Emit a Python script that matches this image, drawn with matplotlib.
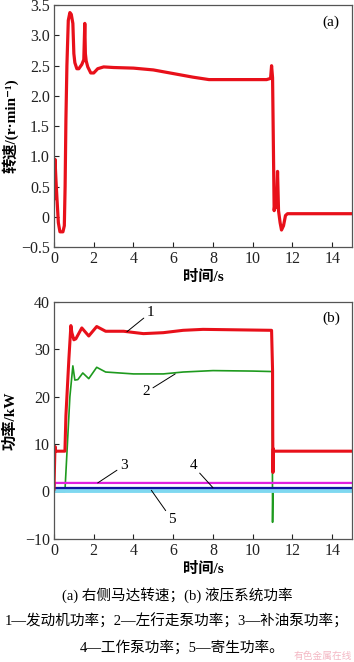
import matplotlib
matplotlib.use('Agg')
import matplotlib.pyplot as plt

FAM = ['Liberation Serif', 'Noto Sans CJK SC', 'DejaVu Sans']
plt.rcParams['font.family'] = FAM
plt.rcParams['axes.unicode_minus'] = True

# (a) right motor speed
t_a = [0.0, 0.05, 0.1, 0.15, 0.22, 0.3, 0.45, 0.52, 0.56, 0.6, 0.65, 0.72, 0.8, 0.87, 0.95,
       1.0, 1.05, 1.15, 1.25, 1.4, 1.5, 1.55, 1.58, 1.62, 1.7, 1.85, 2.0, 2.2, 2.5, 3.0,
       4.0, 5.0, 6.0, 7.0, 7.8, 10.7, 10.9, 10.95, 11.0, 11.08, 11.15, 11.2, 11.25, 11.3,
       11.38, 11.45, 11.55, 11.65, 11.75, 15.0]
speed_a = [0.3, 0.95, 0.6, 0.3, -0.1, -0.25, -0.25, -0.15, 0.5, 1.6, 2.5, 3.25, 3.38, 3.35, 3.2,
           2.7, 2.55, 2.45, 2.45, 2.52, 2.6, 3.2, 2.7, 2.58, 2.48, 2.38, 2.38, 2.45, 2.48, 2.47,
           2.46, 2.43, 2.37, 2.31, 2.27, 2.27, 2.29, 2.5, 2.3, 0.1, 0.3, 0.15, 0.75, 0.1,
           -0.1, -0.22, -0.15, 0.02, 0.05, 0.05]

# (b) hydraulic power
t_1 = [0.0, 0.05, 0.08, 0.15, 0.55, 0.6, 0.75, 0.85, 0.9, 1.0, 1.1, 1.4, 1.75, 2.15, 2.6,
       3.5, 4.5, 5.5, 6.5, 7.5, 10.95, 11.0, 11.01, 11.02, 11.04, 11.06, 15.0]
p_1 = [0.5, 9.5, 8.5, 8.5, 8.5, 16.0, 28.0, 35.0, 33.5, 32.0, 32.2, 34.5, 32.8, 34.8, 33.8,
       33.8, 33.3, 33.5, 34.0, 34.2, 34.0, 25.5, 12.0, 4.0, 9.0, 8.5, 8.5]
t_2 = [0.0, 0.55, 0.65, 0.8, 0.95, 1.05, 1.2, 1.45, 1.75, 2.15, 2.6, 4.0, 5.5, 6.5, 8.0,
       10.0, 10.98, 11.0, 11.02, 11.05, 15.0]
p_2 = [0.0, 0.0, 8.0, 20.0, 26.5, 23.5, 23.6, 25.0, 23.8, 26.2, 25.2, 24.8, 24.8, 25.2, 25.5,
       25.4, 25.3, -6.5, 0.0, 0.2, 0.2]
t_3 = [0.0, 0.05, 15.0]
p_3 = [0.5, 1.8, 1.8]
t_4 = [0.0, 15.0]
p_4 = [0.8, 0.8]
t_5 = [0.0, 15.0]
p_5 = [0.25, 0.25]

fig = plt.figure(figsize=(3.54, 6.62), dpi=100)

def style(ax):
    for s in ax.spines.values():
        s.set_color('#555555')
        s.set_linewidth(0.9)
    ax.tick_params(direction='in', length=3.6, width=0.8, labelsize=11.5, pad=3, colors='#222222')
    ax.set_xlim(0, 15)
    ax.set_xticks(range(0, 16, 2))

ax1 = fig.add_axes([0.1525, 0.627, 0.842, 0.365])
ax1.plot(t_a, speed_a, color='#e8101a', lw=2.3, solid_joinstyle='round')
ax1.set_ylim(-0.5, 3.5)
ax1.set_yticks([-0.5, 0, 0.5, 1.0, 1.5, 2.0, 2.5, 3.0, 3.5])
ax1.set_yticklabels(['\u22120.5', '0', '0.5', '1.0', '1.5', '2.0', '2.5', '3.0', '3.5'])
style(ax1)
ax1.set_xlabel('时间/s', fontsize=11, fontweight='bold', labelpad=2)
ax1.set_ylabel('转速/(r·min⁻¹)', fontsize=11, fontweight='bold', labelpad=2)
ax1.text(0.93, 0.93, '(a)', transform=ax1.transAxes, ha='center', va='center', fontsize=11)

ax2 = fig.add_axes([0.1525, 0.186, 0.842, 0.358])
ax2.plot(t_2, p_2, color='#1e9a1e', lw=1.2)
ax2.plot(t_5, p_5, color='#7fd8f0', lw=3.5)
ax2.plot(t_3, p_3, color='#e020e0', lw=1.6)
ax2.plot(t_4, p_4, color='#1018a0', lw=1.6)
ax2.plot(t_1, p_1, color='#e8101a', lw=2.2, solid_joinstyle='round')
ax2.set_ylim(-10, 40)
ax2.set_yticks([-10, 0, 10, 20, 30, 40])
ax2.set_yticklabels(['\u221210', '0', '10', '20', '30', '40'])
style(ax2)
ax2.set_xlabel('时间/s', fontsize=11, fontweight='bold', labelpad=2)
ax2.set_ylabel('功率/kW', fontsize=11, fontweight='bold', labelpad=5)
ax2.text(0.93, 0.93, '(b)', transform=ax2.transAxes, ha='center', va='center', fontsize=11)

arrow = dict(arrowstyle='-', color='black', lw=0.7, shrinkA=0, shrinkB=0)
ax2.annotate('1', xy=(3.67, 33.7), xytext=(4.85, 37.7), fontsize=11, ha='center', va='center', arrowprops=arrow)
ax2.annotate('2', xy=(6.1, 24.8), xytext=(4.65, 21.0), fontsize=11, ha='center', va='center', arrowprops=arrow)
ax2.annotate('3', xy=(2.2, 1.8), xytext=(3.5, 5.4), fontsize=11, ha='center', va='center', arrowprops=arrow)
ax2.annotate('4', xy=(8.0, 0.8), xytext=(7.0, 5.4), fontsize=11, ha='center', va='center', arrowprops=arrow)
ax2.annotate('5', xy=(4.9, 0.25), xytext=(5.95, -6.0), fontsize=11, ha='center', va='center', arrowprops=arrow)

fig.text(0.5, 1 - 595 / 662, '(a) 右侧马达转速；(b) 液压系统功率', ha='center', va='center', fontsize=10.5)
fig.text(0.5, 1 - 621 / 662, '1—发动机功率；2—左行走泵功率；3—补油泵功率；', ha='center', va='center', fontsize=10.5)
fig.text(0.515, 1 - 647 / 662, '4—工作泵功率；5—寄生功率。', ha='center', va='center', fontsize=10.5)
fig.text(0.995, 1 - 656 / 662, '有色金属在线', ha='right', va='center', fontsize=7, color='#f4b8c4')

fig.savefig('out.png', dpi=100)
